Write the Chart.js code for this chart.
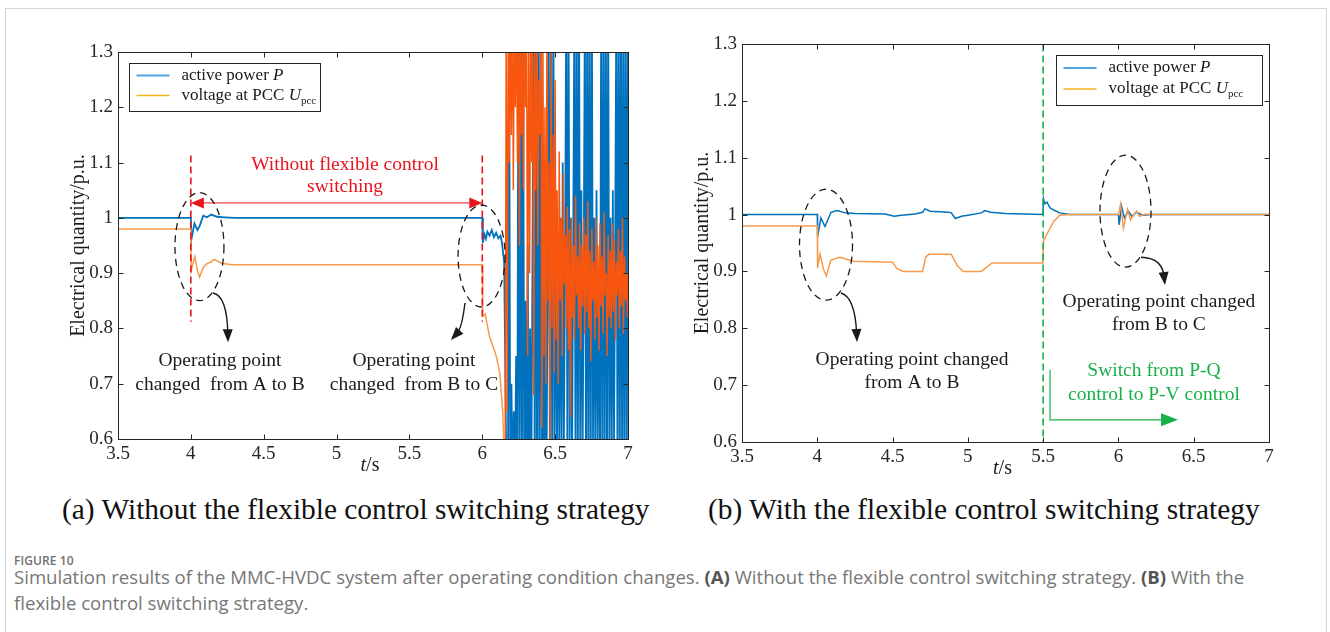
<!DOCTYPE html>
<html><head><meta charset="utf-8">
<script src="https://cdn.jsdelivr.net/npm/chart.js@4/dist/chart.umd.min.js"></script>
<style>
body{margin:0;background:#fff;width:1330px;height:632px;overflow:hidden;position:relative}
#frame{position:absolute;left:5px;top:8px;width:1322px;height:660px;border:1px solid #d6d6d6;box-sizing:border-box}
#ca{position:absolute;left:0;top:0}
#cb{position:absolute;left:690px;top:0}
.sub{position:absolute;top:491px;font-family:'Liberation Serif',serif;font-size:29.4px;line-height:36px;color:#111;white-space:nowrap}
#figno{position:absolute;left:14px;top:552px;font-family:'Open Sans',sans-serif;font-size:12px;font-weight:600;color:#707070;letter-spacing:0.1px}
#cap{position:absolute;left:14px;top:564px;font-family:'Open Sans',sans-serif;font-size:18.6px;line-height:26px;color:#777;white-space:nowrap}
#cap b{color:#555;font-weight:700}
</style></head>
<body>
<div id="frame"></div>
<canvas id="ca" width="690" height="480"></canvas>
<canvas id="cb" width="640" height="480"></canvas>
<div class="sub" style="left:62px">(a) Without the flexible control switching strategy</div>
<div class="sub" style="left:708px">(b) With the flexible control switching strategy</div>
<div id="figno">FIGURE 10</div>
<div id="cap">Simulation results of the MMC-HVDC system after operating condition changes. <b>(A)</b> Without the flexible control switching strategy. <b>(B)</b> With the<br>flexible control switching strategy.</div>
<script>
// ---------- axis ticks ----------
const xTickVals = [3.5, 4, 4.5, 5, 5.5, 6, 6.5, 7];
const xTickLabels = ['3.5', '4', '4.5', '5', '5.5', '6', '6.5', '7'];
const yTickVals = [0.6, 0.7, 0.8, 0.9, 1.0, 1.1, 1.2, 1.3];
const yTickLabels = ['0.6', '0.7', '0.8', '0.9', '1', '1.1', '1.2', '1.3'];

// ---------- (a) without switching ----------
const aPt = [3.5, 4.0, 4.003, 4.025, 4.045, 4.06, 4.085, 4.11, 4.14, 4.18, 4.23, 4.3, 6.0, 6.004, 6.015, 6.025, 6.035, 6.05, 6.065, 6.08, 6.095, 6.11, 6.125, 6.135, 6.15, 6.165];
const aPv = [1.0, 1.0, 0.96, 0.99, 0.978, 0.985, 1.004, 1.001, 1.006, 1.002, 1.001, 1.0, 1.0, 0.955, 0.97, 0.962, 0.975, 0.968, 0.978, 0.965, 0.973, 0.963, 0.968, 0.955, 0.92, 0.55];
// unstable oscillation of P after 6.176 s (sampled every 0.008 s)
const aPosc0 = 6.176, aPoscDt = 0.008;
const aPosc = [0.5, 1.4, 0.5,
  0.7, 0.5, 0.65, 0.5, 0.75, 0.5,
  1.4, 0.5, 1.4, 0.5, 1.4, 0.5,
  0.85, 0.5, 0.95, 0.5, 0.8, 0.5, 0.9,
  1.4, 0.5, 1.4, 0.5, 1.4, 0.5, 1.4, 0.5,
  0.9, 0.5, 1.0, 0.5, 0.85,
  1.4, 0.5, 1.4, 0.5, 1.4,
  0.6, 1.05, 0.55, 0.95, 0.6, 1.0, 0.55, 1.1, 0.6, 0.9,
  1.4, 0.55, 1.4,
  0.6, 1.0, 0.55, 0.95,
  1.4, 0.5, 1.4, 0.55, 1.4,
  0.6, 1.05, 0.55, 0.9,
  1.4, 0.5, 1.4, 0.55, 1.4, 0.5, 1.4, 0.6,
  1.0, 0.55, 1.05, 0.6, 0.9, 0.55,
  1.4, 0.5, 1.4, 0.55, 1.4, 0.5, 1.4,
  0.6, 1.0, 0.55, 1.05, 0.6, 0.95,
  1.4, 0.5, 1.4, 0.55, 1.4, 0.5, 1.4, 0.5, 1.4, 0.55, 1.4, 0.5, 1.4, 0.6];
const aUt = [3.5, 4.0, 4.003, 4.027, 4.045, 4.06, 4.085, 4.11, 4.135, 4.16, 4.21, 4.28, 6.0, 6.003, 6.02, 6.035, 6.05, 6.07, 6.09, 6.1, 6.12, 6.14, 6.15];
const aUv = [0.98, 0.98, 0.906, 0.93, 0.905, 0.893, 0.91, 0.917, 0.92, 0.925, 0.918, 0.915, 0.915, 0.822, 0.826, 0.805, 0.785, 0.77, 0.755, 0.745, 0.72, 0.65, 0.58];
// unstable oscillation of Upcc after 6.157 s (sampled every 0.007 s)
const aUosc0 = 6.157, aUoscDt = 0.007;
const aUosc = [0.55, 1.35, 0.65, 1.4, 1.1, 1.35,
  1.15, 1.4, 1.05, 1.35, 1.2, 1.4, 1.1, 1.38, 0.95, 1.4, 1.15, 1.35, 1.05, 1.4, 1.2, 1.3,
  0.75, 1.4, 0.9, 1.35, 1.1, 1.4, 0.68, 1.3, 1.05, 1.4, 0.95, 1.25, 1.15, 1.4,
  0.62, 1.35, 0.75, 1.2, 0.7, 1.4, 0.85, 1.1, 0.6, 1.3, 0.8, 1.15, 0.72, 1.25,
  0.78, 1.05, 0.7, 1.12, 0.85, 1.0, 0.75, 1.08, 0.88, 0.97, 0.8, 1.02, 0.76, 0.98,
  0.64, 1.0, 0.82, 0.95, 0.78, 1.04, 0.86, 0.93, 0.8, 0.99, 0.76, 0.95, 0.84, 1.0,
  0.79, 0.97, 0.83, 1.03, 0.8, 0.94, 0.74, 0.98, 0.85, 0.92, 0.78, 1.0, 0.82, 0.95,
  0.76, 0.99, 0.84, 0.93, 0.79, 1.01, 0.86, 0.9, 0.75, 0.97, 0.82, 0.94, 0.8, 0.99,
  0.83, 0.96, 0.78, 0.92, 0.86, 0.98, 0.8, 0.94, 0.84, 1.0, 0.79, 0.93, 0.85, 0.9,
  0.82, 0.95, 0.8];

// ---------- (b) with switching ----------
const bPt = [3.5, 4.0, 4.002, 4.024, 4.051, 4.091, 4.132, 4.186, 4.25, 4.45, 4.511, 4.56, 4.65, 4.7, 4.714, 4.75, 4.87, 4.89, 4.917, 4.958, 5.0, 5.09, 5.112, 5.15, 5.25, 5.498, 5.502, 5.51, 5.525, 5.545, 5.57, 5.61, 5.676, 6.0, 6.005, 6.02, 6.04, 6.066, 6.09, 6.12, 6.16, 6.22, 7.0];
const bPv = [1.0, 1.0, 0.961, 0.994, 0.979, 1.004, 1.007, 1.003, 1.002, 1.001, 0.997, 0.999, 1.001, 1.004, 1.01, 1.006, 1.004, 1.003, 0.993, 0.997, 0.999, 1.003, 1.007, 1.004, 1.002, 1.0, 1.028, 1.019, 1.022, 1.012, 1.008, 1.003, 1.0, 1.0, 0.982, 1.015, 0.994, 1.006, 0.997, 1.004, 0.999, 1.0, 1.0];
const bUt = [3.5, 4.0, 4.002, 4.018, 4.04, 4.06, 4.09, 4.15, 4.24, 4.5, 4.53, 4.57, 4.7, 4.72, 4.74, 4.89, 4.93, 4.97, 5.09, 5.16, 5.498, 5.502, 5.53, 5.57, 5.61, 5.68, 6.0, 6.014, 6.033, 6.06, 6.08, 6.12, 6.14, 6.18, 6.22, 7.0];
const bUv = [0.98, 0.98, 0.906, 0.931, 0.905, 0.892, 0.92, 0.925, 0.918, 0.916, 0.905, 0.9, 0.9, 0.925, 0.93, 0.93, 0.91, 0.9, 0.9, 0.915, 0.915, 0.953, 0.968, 0.988, 0.999, 1.0, 1.0, 1.018, 0.976, 1.009, 0.991, 1.006, 0.997, 1.001, 1.0, 1.0];

// ---------- styles ----------
const SERIF = "'Liberation Serif','Times New Roman',serif";
const BLUE = '#0072BD', ORANGE = '#F79A4C', ORANGE_OSC = '#F8560F';
const RED = '#E8141E', GREEN = '#19B04A', INK = '#1a1a1a', AXIS = '#262626';
const TXT = 19.5, TICK = 19, TITLE = 20;

const pairs = (ts, vs) => ts.map((t, i) => ({x: t, y: vs[i]}));
const stepped = (t0, dt, vs) => vs.map((v, i) => ({x: t0 + i * dt, y: v}));

function richText(ctx, x, y, parts, size, color, align) {
  ctx.save();
  ctx.fillStyle = color; ctx.textBaseline = 'middle';
  const fontOf = p => (p[1] === 'i' ? 'italic ' : '') + (p[1] === 's' ? Math.round(size * 0.62) : size) + 'px ' + SERIF;
  let w = 0;
  parts.forEach(p => { ctx.font = fontOf(p); w += ctx.measureText(p[0]).width; });
  let cx = align === 'center' ? x - w / 2 : x;
  ctx.textAlign = 'left';
  parts.forEach(p => {
    ctx.font = fontOf(p);
    ctx.fillText(p[0], cx, p[1] === 's' ? y + size * 0.3 : y);
    cx += ctx.measureText(p[0]).width;
  });
  ctx.restore();
}
function arrowHead(ctx, tx, ty, dx, dy, len, hw, color) {
  const L = Math.hypot(dx, dy); const ux = dx / L, uy = dy / L;
  ctx.save(); ctx.fillStyle = color; ctx.beginPath();
  ctx.moveTo(tx, ty);
  ctx.lineTo(tx - ux * len - uy * hw, ty - uy * len + ux * hw);
  ctx.lineTo(tx - ux * len + uy * hw, ty - uy * len - ux * hw);
  ctx.closePath(); ctx.fill(); ctx.restore();
}

function decorPlugin(ann) {
  return {
    id: 'decor',
    afterDatasetsDraw(chart) {
      const ctx = chart.ctx, xs = chart.scales.x, ys = chart.scales.y, ca = chart.chartArea;
      const X = t => xs.getPixelForValue(t), Y = v => ys.getPixelForValue(v);
      const L = Math.round(ca.left) + 0.5, R = Math.round(ca.right) + 0.5, T = Math.round(ca.top) + 0.5, B = Math.round(ca.bottom) + 0.5;
      ctx.save();
      (ann.vlines || []).forEach(l => {
        ctx.save(); ctx.strokeStyle = l.color; ctx.lineWidth = 1.6; ctx.setLineDash([7, 4]);
        ctx.beginPath(); ctx.moveTo(X(l.t), l.v0 == null ? T : Y(l.v0)); ctx.lineTo(X(l.t), l.v1 == null ? B : Y(l.v1)); ctx.stroke(); ctx.restore();
      });
      if (ann.dbl) {
        const d = ann.dbl, y = Y(d.v), x0 = X(d.t0), x1 = X(d.t1);
        ctx.save(); ctx.strokeStyle = d.color; ctx.lineWidth = 1;
        ctx.beginPath(); ctx.moveTo(x0 + 8, y); ctx.lineTo(x1 - 8, y); ctx.stroke(); ctx.restore();
        arrowHead(ctx, x0, y, -1, 0, 13, 5.5, d.color);
        arrowHead(ctx, x1, y, 1, 0, 13, 5.5, d.color);
      }
      if (ann.lArrow) {
        const a = ann.lArrow;
        ctx.save(); ctx.strokeStyle = a.color; ctx.lineWidth = 1.2;
        ctx.beginPath(); ctx.moveTo(X(a.t0), Y(a.v0)); ctx.lineTo(X(a.t0), Y(a.v1)); ctx.lineTo(X(a.t1) - 10, Y(a.v1)); ctx.stroke(); ctx.restore();
        arrowHead(ctx, X(a.t1), Y(a.v1), 1, 0, 17, 6.5, a.color);
      }
      (ann.ellipses || []).forEach(e => {
        ctx.save(); ctx.strokeStyle = INK; ctx.lineWidth = 1.3; ctx.setLineDash([7, 5]);
        ctx.beginPath(); ctx.ellipse(X(e.t), Y(e.v), e.rx, e.ry, 0, 0, Math.PI * 2); ctx.stroke(); ctx.restore();
      });
      (ann.arrows || []).forEach(a => {
        const sx = X(a.s[0]), sy = Y(a.s[1]), cx = X(a.c[0]), cy = Y(a.c[1]), ex = X(a.e[0]), ey = Y(a.e[1]);
        const L2 = Math.hypot(ex - cx, ey - cy), bx = ex - (ex - cx) / L2 * 9, by = ey - (ey - cy) / L2 * 9;
        ctx.save(); ctx.strokeStyle = INK; ctx.lineWidth = 1.4;
        ctx.beginPath(); ctx.moveTo(sx, sy); ctx.quadraticCurveTo(cx, cy, bx, by); ctx.stroke(); ctx.restore();
        arrowHead(ctx, ex, ey, ex - cx, ey - cy, 13, 5, INK);
      });
      (ann.texts || []).forEach(tx => richText(ctx, X(tx.t), Y(tx.v), [[tx.s, '']], TXT, tx.color || INK, 'center'));
      // axes box and inward ticks
      ctx.strokeStyle = AXIS; ctx.lineWidth = 1; ctx.setLineDash([]);
      ctx.strokeRect(L, T, R - L, B - T);
      ctx.beginPath();
      xTickVals.forEach(v => { const x = Math.round(X(v)) + 0.5; ctx.moveTo(x, B); ctx.lineTo(x, B - 5); ctx.moveTo(x, T); ctx.lineTo(x, T + 5); });
      yTickVals.forEach(v => { const y = Math.round(Y(v)) + 0.5; ctx.moveTo(L, y); ctx.lineTo(L + 5, y); ctx.moveTo(R, y); ctx.lineTo(R - 5, y); });
      ctx.stroke();
      // legend
      const lg = ann.legend;
      const lx = lg.right ? R - lg.dx - lg.w : L + lg.dx, ly = T + lg.dy;
      ctx.fillStyle = '#fff'; ctx.fillRect(lx, ly, lg.w, lg.h);
      ctx.strokeStyle = AXIS; ctx.strokeRect(Math.round(lx) + 0.5, Math.round(ly) + 0.5, lg.w, lg.h);
      const r1 = ly + lg.h * 0.27, r2 = ly + lg.h * 0.69;
      ctx.lineWidth = 2; ctx.strokeStyle = '#4FA6E3'; ctx.beginPath(); ctx.moveTo(lx + 8, r1); ctx.lineTo(lx + 41, r1); ctx.stroke();
      ctx.lineWidth = 1.5; ctx.strokeStyle = '#F6B21B'; ctx.beginPath(); ctx.moveTo(lx + 8, r2); ctx.lineTo(lx + 41, r2); ctx.stroke();
      richText(ctx, lx + 53, r1, [['active power ', ''], ['P', 'i']], 17, INK, 'left');
      richText(ctx, lx + 53, r2, [['voltage at PCC ', ''], ['U', 'i'], ['pcc', 's']], 17, INK, 'left');
      // axis titles
      richText(ctx, (ca.left + ca.right) / 2 - 3, B + ann.xTitleDy, [['t', 'i'], ['/s', '']], TITLE, INK, 'center');
      ctx.save(); ctx.translate(ca.left - 39, (ca.top + ca.bottom) / 2); ctx.rotate(-Math.PI / 2);
      richText(ctx, 0, 0, [['Electrical quantity/p.u.', '']], TITLE, INK, 'center'); ctx.restore();
      ctx.restore();
    }
  };
}

function build(id, datasets, pad, ann) {
  return new Chart(document.getElementById(id), {
    type: 'line',
    data: {datasets},
    options: {
      responsive: false, animation: false, events: [],
      layout: {padding: pad},
      plugins: {legend: {display: false}, tooltip: {enabled: false}},
      elements: {point: {radius: 0}, line: {tension: 0}},
      scales: {
        x: {type: 'linear', min: 3.5, max: 7,
          grid: {display: false, drawTicks: false}, border: {display: false},
          afterBuildTicks: s => { s.ticks = xTickVals.map(v => ({value: v})); },
          afterFit: s => { s.height = 30; },
          ticks: {padding: 4, color: AXIS, font: {family: SERIF, size: TICK}, maxRotation: 0, autoSkip: false,
            callback: (v, i) => xTickLabels[i]}},
        y: {type: 'linear', min: 0.6, max: 1.3,
          grid: {display: false, drawTicks: false}, border: {display: false},
          afterBuildTicks: s => { s.ticks = yTickVals.map(v => ({value: v})); },
          afterFit: s => { s.width = 50; },
          ticks: {padding: 5, color: AXIS, font: {family: SERIF, size: TICK}, autoSkip: false,
            callback: (v, i) => yTickLabels[i]}}
      }
    },
    plugins: [decorPlugin(ann)]
  });
}

const ds = (data, color, w, order) => ({data, borderColor: color, borderWidth: w, pointRadius: 0, clip: 0, order, fill: false});

build('ca', [
  ds(pairs(aUt, aUv), ORANGE, 1.5, 0),
  ds(stepped(aUosc0, aUoscDt, aUosc), ORANGE_OSC, 1.4, 0),
  ds(pairs(aPt, aPv).concat(stepped(aPosc0, aPoscDt, aPosc)), BLUE, 1.8, 1)
], {left: 68, top: 52, right: 62, bottom: 11}, {
  vlines: [{t: 4.0, v0: 1.113, v1: 0.812, color: RED}, {t: 6.0, v0: 1.113, v1: 0.812, color: RED}],
  dbl: {t0: 4.0, t1: 6.0, v: 1.027, color: RED},
  ellipses: [{t: 4.059, v: 0.948, rx: 24.5, ry: 54}, {t: 5.995, v: 0.931, rx: 23.5, ry: 51}],
  arrows: [{s: [4.152, 0.864], c: [4.248, 0.859], e: [4.255, 0.775]}, {s: [5.881, 0.846], c: [5.861, 0.801], e: [5.785, 0.779]}],
  texts: [
    {t: 5.058, v: 1.096, s: 'Without flexible control', color: RED},
    {t: 5.058, v: 1.056, s: 'switching', color: RED},
    {t: 4.2, v: 0.741, s: 'Operating point'},
    {t: 4.2, v: 0.698, s: 'changed  from A to B'},
    {t: 5.531, v: 0.741, s: 'Operating point'},
    {t: 5.531, v: 0.698, s: 'changed  from B to C'}],
  legend: {right: false, dx: 10, dy: 10, w: 191, h: 48},
  xTitleDy: 26
});

build('cb', [
  ds(pairs(bUt, bUv), ORANGE, 1.5, 0),
  ds(pairs(bPt, bPv), BLUE, 1.5, 1)
], {left: 2, top: 44, right: 61, bottom: 8}, {
  vlines: [{t: 5.5, v0: null, v1: null, color: GREEN}],
  lArrow: {t0: 5.546, v0: 0.727, v1: 0.639, t1: 6.396, color: GREEN},
  ellipses: [{t: 4.058, v: 0.947, rx: 26.5, ry: 55.5}, {t: 6.047, v: 1.006, rx: 25.5, ry: 56}],
  arrows: [{s: [4.157, 0.862], c: [4.25, 0.855], e: [4.264, 0.776]}, {s: [6.15, 0.925], c: [6.29, 0.924], e: [6.309, 0.876]}],
  texts: [
    {t: 6.236, v: 0.725, s: 'Switch from P-Q', color: GREEN},
    {t: 6.236, v: 0.683, s: 'control to P-V control', color: GREEN},
    {t: 6.269, v: 0.846, s: 'Operating point changed'},
    {t: 6.269, v: 0.806, s: 'from B to C'},
    {t: 4.629, v: 0.744, s: 'Operating point changed'},
    {t: 4.629, v: 0.704, s: 'from A to B'}],
  legend: {right: true, dx: 8, dy: 10, w: 206, h: 50},
  xTitleDy: 26
});
</script>
</body></html>
